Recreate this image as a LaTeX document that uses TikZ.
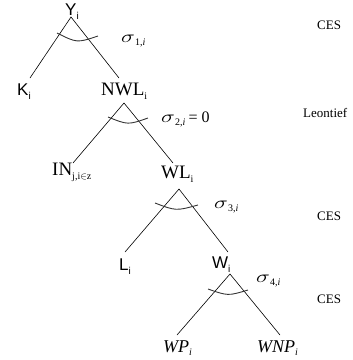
\documentclass[tikz,border=0pt]{standalone}
\usepackage{fontspec}
\setmainfont{Liberation Serif}
\setsansfont{Liberation Sans}
\newcommand{\lowsub}[1]{\raisebox{-4pt}{\fontsize{10}{10}\selectfont #1}}
\newcommand{\sigsub}[1]{\raisebox{-3.5pt}{\fontsize{10}{10}\selectfont #1}}
\newcommand{\wsig}{\scalebox{1.35}[1]{\fontsize{19}{19}\selectfont$\sigma$}}
\begin{document}
\begin{tikzpicture}[x=1pt,y=-1pt,
  lab/.style={anchor=base west, inner sep=0pt},
  sflab/.style={lab, font=\sffamily\fontsize{17}{17}\selectfont},
  rmlab/.style={lab, font=\fontsize{19}{19}\selectfont},
  itlab/.style={lab, font=\fontsize{18}{18}\selectfont\itshape},
  note/.style={lab, font=\fontsize{13}{13}\selectfont},
  sig/.style={lab, font=\fontsize{20}{20}\selectfont},
  branch/.style={line width=0.6pt},
  arcline/.style={line width=0.9pt, black!80}]
\useasboundingbox (0,0) rectangle (353,360);

% ---- level 1
\node[sflab] (Y) at (65,15) {Y\lowsub{i}};
\node[sflab] (K) at (17,95) {K\lowsub{i}};
\node[rmlab] (NWL) at (101,95) {NWL\lowsub{i}};
\node[sig] (s1) at (121,42) {\wsig\sigsub{1,\textit{i}}};
\node[note] (c1) at (317,29) {CES};
\coordinate (aY) at (71,17);
\coordinate (eK) at (30,78);
\coordinate (eNWL) at (119,78);
\draw[branch] (eK) -- (aY) -- (eNWL);
\draw[arcline] (57,33) .. controls (77,43) .. (98,36);

% ---- level 2
\node[rmlab] (IN) at (52,175) {IN\lowsub{j,i$\in$z}};
\node[rmlab] (WL) at (161,178) {WL\lowsub{i}};
\node[sig] (s2) at (161,122) {\wsig\sigsub{2,\textit{i}}\,{\fontsize{16}{16}\selectfont = 0}};
\node[note] (c2) at (303,117) {Leontief};
\coordinate (aNWL) at (124,103);
\coordinate (eIN) at (73,163);
\coordinate (eWL) at (173,163);
\draw[branch] (eIN) -- (aNWL) -- (eWL);
\draw[arcline] (108,117) .. controls (128,125) .. (148,118);

% ---- level 3
\node[sflab] (L) at (119,270) {L\lowsub{i}};
\node[sflab] (W) at (212,268) {W\lowsub{i}};
\node[sig] (s3) at (214,208) {\wsig\sigsub{3,\textit{i}}};
\node[note] (c3) at (317,220) {CES};
\coordinate (aWL) at (179,189);
\coordinate (eL) at (125,252);
\coordinate (eW) at (228,252);
\draw[branch] (eL) -- (aWL) -- (eW);
\draw[arcline] (155,203) .. controls (176,211) .. (198,205);

% ---- level 4
\node[itlab] (WP) at (163,352) {WP\raisebox{-3pt}{\fontsize{10}{10}\selectfont\textit{i}}};
\node[itlab] (WNP) at (257,352) {WNP\raisebox{-3pt}{\fontsize{10}{10}\selectfont\textit{i}}};
\node[sig] (s4) at (256,282) {\wsig\sigsub{4,\textit{i}}};
\node[note] (c4) at (317,303) {CES};
\coordinate (aW) at (230,274);
\coordinate (eWP) at (177,335);
\coordinate (eWNP) at (280,335);
\draw[branch] (eWP) -- (aW) -- (eWNP);
\draw[arcline] (208,289) .. controls (228,296) .. (248,290);
\end{tikzpicture}
\end{document}
